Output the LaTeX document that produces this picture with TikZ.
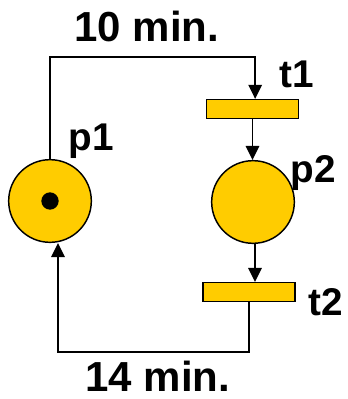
\documentclass[tikz,border=0pt]{standalone}
\usepackage{fontspec}
\setmainfont{Liberation Sans}
\usetikzlibrary{arrows.meta}
\definecolor{petri}{HTML}{FFCC00}
\tikzset{
    place/.style={circle, draw, fill=petri, line width=1.1pt, minimum size=62pt, inner sep=0pt},
    trans/.style={rectangle, draw, fill=petri, line width=1.1pt, minimum width=69pt, minimum height=14pt, inner sep=0pt},
    arc/.style={line width=1.4pt, -{Triangle[length=10.5pt, width=10pt]}},
    lab/.style={font=\fontsize{29}{29}\selectfont\bfseries, inner sep=0pt},
    dur/.style={font=\fontsize{31.5}{31.5}\selectfont\bfseries, inner sep=0pt}
}
\begin{document}
\begin{tikzpicture}[x=0.75pt, y=-0.75pt]
    \useasboundingbox (0,0) rectangle (347,399);
    % places and transitions
    \node[place] (p1) at (50,201) {};
    \node[place] (p2) at (253,202) {};
    \node[trans] (t1) at (252.5,109) {};
    \node[trans] (t2) at (249,292) {};
    % token
    \fill (p1.center) circle (6.5pt);
    % labels
    \node[lab] (lp1) at (91,141) {p1};
    \node[lab] (lp2) at (313,173) {p2};
    \node[lab] (lt1) at (297,74) {t1};
    \node[lab] (lt2) at (326,302) {t2};
    \node[dur] (d1) at (147,26) {10 min.};
    \node[dur] (d2) at (158,376) {14 min.};
    % corners
    \coordinate (top) at (150,57);
    \coordinate (bot) at (150,352);
    % arcs
    \draw[arc] (p1.north) |- (top) -| ([xshift=2pt]t1.north);
    \draw[arc] (t1.south) -- (t1.south |- p2.north);
    \draw[arc] ([xshift=1.5pt]p2.south) -- ([xshift=1.5pt]p2.south |- t2.north);
    \draw[arc] (t2.south) |- (bot) -| ([xshift=6pt]p1.south);
\end{tikzpicture}
\end{document}
